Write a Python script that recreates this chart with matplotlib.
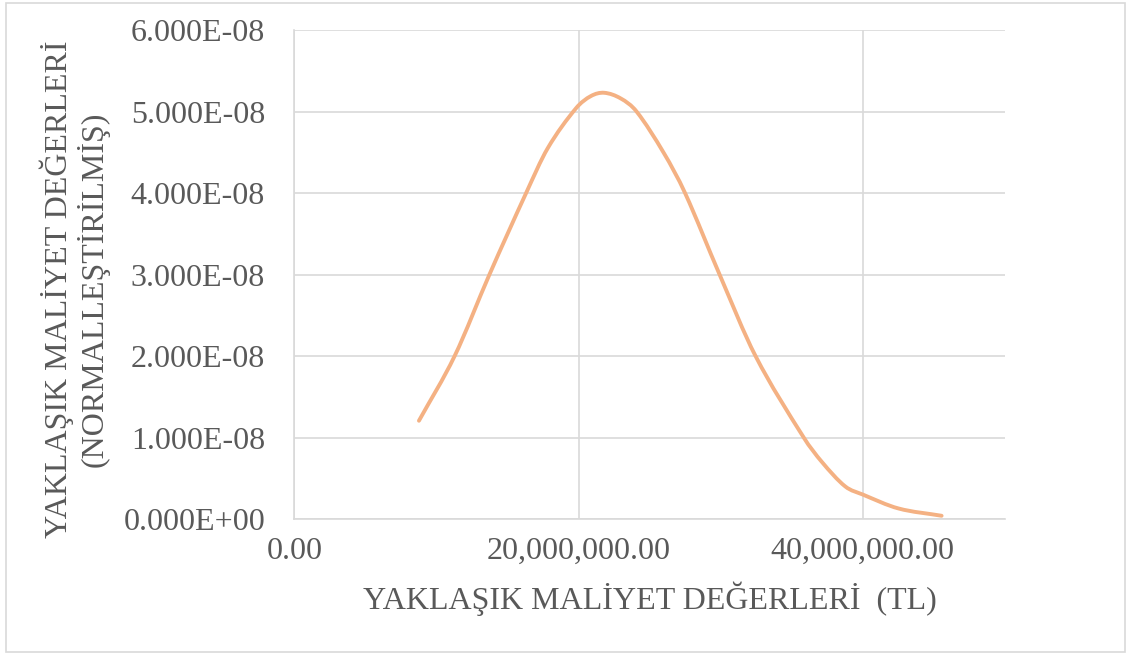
import matplotlib
matplotlib.use("Agg")
import matplotlib.pyplot as plt
from matplotlib.ticker import FuncFormatter, MultipleLocator
from matplotlib.patches import Rectangle, PathPatch
from matplotlib.path import Path

# values (cost in TL, normalised density)
cost = [8.77e6, 11.28e6, 13.73e6, 16.31e6, 17.83e6, 19.82e6, 20.87e6, 21.8e6,
        22.97e6, 24.08e6, 26.0e6, 27.49e6, 29.92e6, 32.45e6, 35.84e6, 37.12e6,
        38.76e6, 40.0e6, 42.5e6, 45.54e6]
density = [1.206e-8, 2.0e-8, 3.0e-8, 4.0e-8, 4.55e-8, 5.04e-8, 5.19e-8, 5.23e-8,
           5.16e-8, 5.0e-8, 4.49e-8, 4.0e-8, 3.0e-8, 2.0e-8, 1.0e-8, 0.70e-8,
           0.40e-8, 0.30e-8, 0.13e-8, 0.04e-8]

x_ticks = [0, 20e6, 40e6]
x_title = "YAKLAŞIK MALİYET DEĞERLERİ  (TL)"
y_title = "YAKLAŞIK MALİYET DEĞERLERİ\n(NORMALLEŞTİRİLMİŞ)"

plt.rcParams['font.family'] = ['Liberation Serif', 'DejaVu Serif']
txt = "#595959"
grid = "#d9d9d9"
fs = 23


def smooth_path(xs, ys):
    # smoothed line like Excel's: cubic Hermite pieces drawn as Beziers
    n = len(xs)
    m = []
    for i in range(n):
        a, b = max(i - 1, 0), min(i + 1, n - 1)
        m.append((ys[b] - ys[a]) / (xs[b] - xs[a]))
    verts = [(xs[0], ys[0])]
    codes = [Path.MOVETO]
    for i in range(n - 1):
        h = (xs[i + 1] - xs[i]) / 3
        verts += [(xs[i] + h, ys[i] + m[i] * h),
                  (xs[i + 1] - h, ys[i + 1] - m[i + 1] * h),
                  (xs[i + 1], ys[i + 1])]
        codes += [Path.CURVE4] * 3
    return Path(verts, codes)


fig = plt.figure(figsize=(11.31, 6.57), dpi=100)
ax = fig.add_axes([0.2602, 0.21, 0.6284, 0.7443])

ax.add_patch(PathPatch(smooth_path(cost, density), fill=False,
                       edgecolor="#f4b183", lw=2.8, capstyle="round"))

ax.set_xlim(0, 50e6)
ax.set_ylim(0, 6e-8)
ax.set_xticks(x_ticks)
ax.yaxis.set_major_locator(MultipleLocator(1e-8))
ax.xaxis.set_major_formatter(FuncFormatter(lambda v, p: "{:,.2f}".format(v)))
ax.yaxis.set_major_formatter(FuncFormatter(lambda v, p: "{:.3E}".format(v)))

ax.grid(True, color=grid, lw=1.2)
ax.set_axisbelow(True)
for s in ["top", "right"]:
    ax.spines[s].set_visible(False)
for s in ["left", "bottom"]:
    ax.spines[s].set_color(grid)
    ax.spines[s].set_linewidth(1.2)

ax.tick_params(axis="both", length=0, labelsize=fs, labelcolor=txt)
ax.tick_params(axis="y", pad=21)
ax.tick_params(axis="x", pad=13)

ax.set_xlabel(x_title, fontsize=fs, color=txt, labelpad=11)
ax.set_ylabel(y_title, fontsize=fs, color=txt, labelpad=10, linespacing=1.1, y=0.47)

fig.patches.append(Rectangle((0.005, 0.008), 0.99, 0.988, transform=fig.transFigure,
                             fill=False, edgecolor=grid, lw=1.2))

fig.savefig("out.png", dpi=100)
